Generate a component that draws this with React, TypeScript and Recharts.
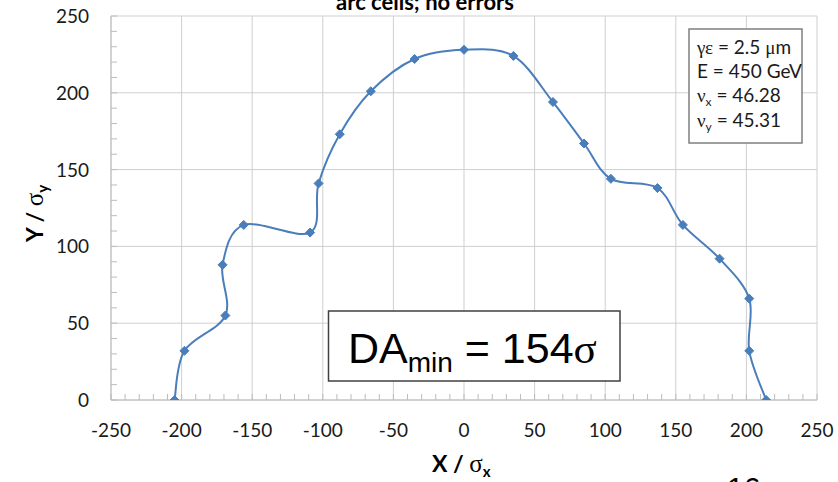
import { CartesianGrid, Scatter, ScatterChart, XAxis, YAxis } from "recharts";

// dynamic aperture boundary, in units of beam sigma
const xSigma = [-205, -198, -169, -171, -156, -109, -103, -88, -66, -35, 0, 35, 63, 85, 104, 137, 155, 181, 202, 202, 214];
const ySigma = [0, 32, 55, 88, 114, 109, 141, 173, 201, 222, 228, 224, 194, 167, 144, 138, 114, 92, 66, 32, 0];

const xMajorTicks = [-250, -200, -150, -100, -50, 0, 50, 100, 150, 200, 250];
const yMajorTicks = [0, 50, 100, 150, 200, 250];

// minor tick marks every 10 sigma
const xMinorTicks = Array.from({ length: 51 }, (_, i) => -250 + i * 10);
const yMinorTicks = Array.from({ length: 26 }, (_, i) => i * 10);

const data = xSigma.map((x, i) => ({ x, y: ySigma[i] }));

const BLUE = "#4a7ebb";
const AXIS = "#bcbcbc";
const GRID = "#cfcfcf";
const FONT = "Lato, 'Open Sans', sans-serif";

type Pt = { x: number; y: number };

// Catmull-Rom through the points, like a spreadsheet "smoothed line"
const smoothPath = (pts: Pt[]) => {
  if (!pts || pts.length < 2) return "";
  let d = `M${pts[0].x},${pts[0].y}`;
  for (let i = 0; i < pts.length - 1; i++) {
    const p0 = pts[i - 1] || pts[i];
    const p1 = pts[i];
    const p2 = pts[i + 1];
    const p3 = pts[i + 2] || p2;
    const c1x = p1.x + (p2.x - p0.x) / 6;
    const c1y = p1.y + (p2.y - p0.y) / 6;
    const c2x = p2.x - (p3.x - p1.x) / 6;
    const c2y = p2.y - (p3.y - p1.y) / 6;
    d += ` C${c1x},${c1y} ${c2x},${c2y} ${p2.x},${p2.y}`;
  }
  return d;
};

const SmoothLine = (props: any) => (
  <path d={smoothPath(props.points)} fill="none" stroke={BLUE} strokeWidth={2} />
);

const Diamond = (props: any) => {
  const { cx, cy } = props;
  const r = 4.5;
  return (
    <polygon
      points={`${cx},${cy - r} ${cx + r},${cy} ${cx},${cy + r} ${cx - r},${cy}`}
      fill={BLUE}
      stroke={BLUE}
      strokeWidth={1}
    />
  );
};

const XTick = (props: any) => {
  const { x, y, payload } = props;
  const v = payload.value;
  return (
    <g>
      <line x1={x} x2={x} y1={y} y2={y - 6} stroke={AXIS} />
      {v % 50 === 0 && (
        <text x={x} y={y + 37} textAnchor="middle" fontSize={19} fontFamily={FONT} fill="#1a1a1a">
          {v}
        </text>
      )}
    </g>
  );
};

const YTick = (props: any) => {
  const { x, y, payload } = props;
  const v = payload.value;
  return (
    <g>
      <line x1={x} x2={x + 6} y1={y} y2={y} stroke={AXIS} />
      {v % 50 === 0 && (
        <text x={x - 22} y={y + 7} textAnchor="end" fontSize={19} fontFamily={FONT} fill="#1a1a1a">
          {v}
        </text>
      )}
    </g>
  );
};

const GREEK = "'Liberation Serif', 'DejaVu Serif', serif";

export default function App() {
  return (
    <div style={{ position: "absolute", left: 0, top: 0, width: 838, height: 482, background: "#fff" }}>
      <ScatterChart width={838} height={482} margin={{ top: 16, right: 21, bottom: 52, left: 51 }}>
        <CartesianGrid stroke={GRID} horizontalValues={yMajorTicks} verticalValues={xMajorTicks} />
        <XAxis
          type="number"
          dataKey="x"
          domain={[-250, 250]}
          ticks={xMinorTicks}
          interval={0}
          tick={<XTick />}
          tickLine={false}
          tickSize={0}
          tickMargin={0}
          axisLine={{ stroke: AXIS }}
          allowDataOverflow
        />
        <YAxis
          type="number"
          dataKey="y"
          domain={[0, 250]}
          ticks={yMinorTicks}
          interval={0}
          tick={<YTick />}
          tickLine={false}
          tickSize={0}
          tickMargin={0}
          axisLine={{ stroke: AXIS }}
          allowDataOverflow
        />
        <Scatter
          data={data}
          fill={BLUE}
          line={SmoothLine}
          lineType="joint"
          shape={Diamond}
          isAnimationActive={false}
        />
      </ScatterChart>

      <svg
        width={838}
        height={482}
        style={{ position: "absolute", left: 0, top: 0, pointerEvents: "none" }}
      >
        <text x={425} y={10} textAnchor="middle" fontSize={22} fontWeight="bold" fontFamily={FONT}>
          arc cells; no errors
        </text>

        <text
          transform="translate(43,242) rotate(-90)"
          fontSize={23}
          fontWeight="bold"
          fontFamily={FONT}
        >
          Y /{" "}
          <tspan fontFamily={GREEK} fontWeight="normal" fontSize={25}>σ</tspan>
          <tspan fontSize={15} dy={5}>y</tspan>
        </text>
        <text x={432} y={472} fontSize={23} fontWeight="bold" fontFamily={FONT}>
          X /{" "}
          <tspan fontFamily={GREEK} fontWeight="normal" fontSize={25}>σ</tspan>
          <tspan fontSize={15} dy={5}>x</tspan>
        </text>

        <rect x={689} y={29} width={113} height={114} fill="#fff" stroke="#7f7f7f" strokeWidth={1.5} />
        <g fontSize={19} fontFamily={FONT} fill="#1a1a1a">
          <text x={697} y={54}>
            <tspan fontFamily={GREEK}>γε</tspan> = 2.5 <tspan fontFamily={GREEK}>μ</tspan>m
          </text>
          <text x={697} y={78}>E = 450 GeV</text>
          <text x={697} y={102}>
            <tspan fontFamily={GREEK}>ν</tspan>
            <tspan fontSize={12} dy={4}>x</tspan>
            <tspan dy={-4}> = 46.28</tspan>
          </text>
          <text x={697} y={127}>
            <tspan fontFamily={GREEK}>ν</tspan>
            <tspan fontSize={12} dy={4}>y</tspan>
            <tspan dy={-4}> = 45.31</tspan>
          </text>
        </g>

        <rect x={328.5} y={311} width={291.5} height={70} fill="#fff" stroke="#404040" strokeWidth={1.5} />
        <text x={348} y={363} fontSize={43} fontFamily="'Liberation Sans', Arial, sans-serif" fill="#000">
          DA
          <tspan fontSize={28} dy={9}>min</tspan>
          <tspan dy={-9}> = 154</tspan>
          <tspan fontFamily={GREEK}>σ</tspan>
        </text>

        <text x={727} y={498} fontSize={30} fontFamily="'Liberation Sans', Arial, sans-serif" fill="#000">
          16
        </text>
      </svg>
    </div>
  );
}
